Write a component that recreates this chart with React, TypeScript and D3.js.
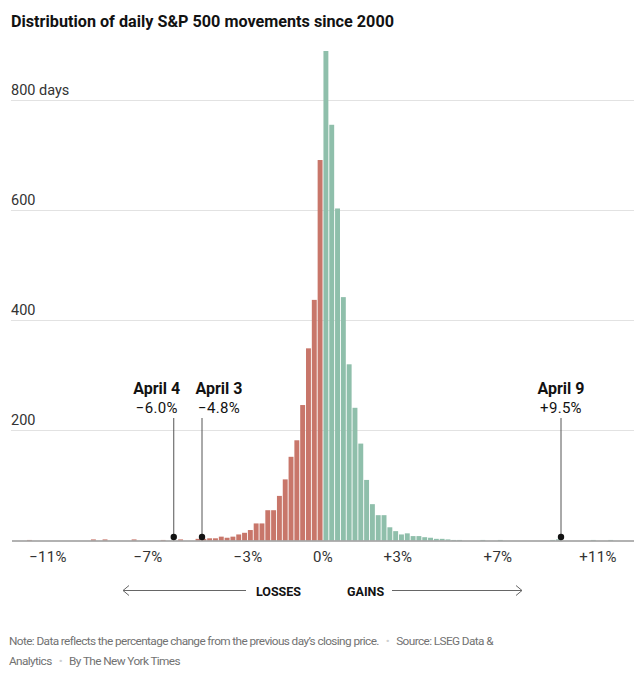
import { useEffect, useRef } from 'react';
import * as d3 from 'd3';

// Number of days per bin. Index 0 is the bin next to 0%.
const LOSS_DAYS = [
  691, 437, 349, 246, 182, 152, 111, 81, 55, 55, 31, 31, 19, 14, 11, 7, 5, 7, 4, 4, 3, 3,
  0, 0, 2, 0, 0, 1, 0, 0, 0, 0, 2, 0, 0, 0, 0, 2, 0, 2, 0, 0, 0, 0, 0, 0, 0, 0, 0, 0, 1,
];
const GAIN_DAYS = [
  889, 755, 603, 442, 320, 241, 176, 110, 66, 46, 46, 24, 17, 11, 13, 8, 8, 6, 5, 3, 3, 2, 1, 1,
  0, 0, 0, 1, 0, 0, 1, 0, 0, 0, 0, 0, 0, 0, 0, 1, 2, 0, 0, 0, 0, 0, 1, 0, 0, 1,
];
const BIN_WIDTH = 0.2325; // percentage points per bin

const X_TICKS = [-11, -7, -3, 0, 3, 7, 11];
const Y_TICKS = [200, 400, 600, 800];

const EVENT_DATES = ['April 4', 'April 3', 'April 9'];
const EVENT_VALUES = [-5.97, -4.84, 9.52];
const EVENT_LABELS = ['\u22126.0%', '\u22124.8%', '+9.5%'];
const EVENT_NUDGE = [-17, 17, 0]; // label offset from the leader line, px

const TITLE = 'Distribution of daily S&P 500 movements since 2000';
const NOTE_LINES = [
  ['Note: Data reflects the percentage change from the previous day\u2019s closing price.', 'Source: LSEG Data &'],
  ['Analytics', 'By The New York Times'],
];

const W = 644;
const H = 680;
const FONT = 'Roboto, "Noto Sans", Arial, sans-serif';
const RED = '#c8766a';
const GREEN = '#8fbfab';

const fmtTick = (v: number) => (v === 0 ? '0%' : v < 0 ? `\u2212${-v}%` : `+${v}%`);

export default function App() {
  const svgRef = useRef<SVGSVGElement>(null);

  useEffect(() => {
    if (!svgRef.current) return;
    const svg = d3.select(svgRef.current);
    svg.selectAll('*').remove();
    svg.style('font-family', FONT);

    const x = d3.scaleLinear().domain([-11, 11]).range([48, 598]);
    const y = d3.scaleLinear().domain([0, 800]).range([540.5, 100]);
    const left = 11;
    const right = 634;

    // Title
    svg
      .append('text')
      .attr('x', left)
      .attr('y', 27)
      .attr('font-size', '16.2px')
      .attr('font-weight', 700)
      .attr('fill', '#121212')
      .text(TITLE);

    // Gridlines and labels
    const grid = svg.append('g');
    Y_TICKS.forEach(t => {
      grid
        .append('line')
        .attr('x1', left)
        .attr('x2', right)
        .attr('y1', Math.round(y(t)) + 0.5)
        .attr('y2', Math.round(y(t)) + 0.5)
        .attr('stroke', '#e2e2e2')
        .attr('stroke-width', 1);
      grid
        .append('text')
        .attr('x', left)
        .attr('y', y(t) - 5)
        .attr('font-size', '14.5px')
        .attr('fill', '#333')
        .text(t === 800 ? `${t} days` : `${t}`);
    });

    // Bars
    const bars = svg.append('g');
    const gap = 0.9;
    LOSS_DAYS.forEach((d, i) => {
      if (!d) return;
      const x0 = x(-(i + 1) * BIN_WIDTH);
      const x1 = x(-i * BIN_WIDTH);
      bars
        .append('rect')
        .attr('x', x0 + gap / 2)
        .attr('y', y(d))
        .attr('width', Math.max(0.5, x1 - x0 - gap))
        .attr('height', y(0) - y(d))
        .attr('fill', RED);
    });
    GAIN_DAYS.forEach((d, i) => {
      if (!d) return;
      const x0 = x(i * BIN_WIDTH);
      const x1 = x((i + 1) * BIN_WIDTH);
      bars
        .append('rect')
        .attr('x', x0 + gap / 2)
        .attr('y', y(d))
        .attr('width', Math.max(0.5, x1 - x0 - gap))
        .attr('height', y(0) - y(d))
        .attr('fill', GREEN);
    });

    // Baseline
    svg
      .append('line')
      .attr('x1', 12)
      .attr('x2', right)
      .attr('y1', y(0) + 0.5)
      .attr('y2', y(0) + 0.5)
      .attr('stroke', '#999')
      .attr('stroke-width', 1.5);

    // X tick labels
    svg
      .append('g')
      .selectAll('text')
      .data(X_TICKS)
      .join('text')
      .attr('x', (d: number) => x(d))
      .attr('y', 562)
      .attr('text-anchor', 'middle')
      .attr('font-size', '15px')
      .attr('letter-spacing', '0.3px')
      .attr('fill', '#333')
      .text((d: number) => fmtTick(d));

    // Annotations
    EVENT_DATES.forEach((date, i) => {
      const cx = x(EVENT_VALUES[i]);
      const lx = cx + EVENT_NUDGE[i];
      const g = svg.append('g');
      g.append('line')
        .attr('x1', cx)
        .attr('x2', cx)
        .attr('y1', 418)
        .attr('y2', 537)
        .attr('stroke', '#555')
        .attr('stroke-width', 1);
      g.append('circle').attr('cx', cx).attr('cy', 537).attr('r', 3.2).attr('fill', '#121212');
      g.append('text')
        .attr('x', lx)
        .attr('y', 394)
        .attr('text-anchor', 'middle')
        .attr('font-size', '16px')
        .attr('font-weight', 700)
        .attr('fill', '#121212')
        .text(date);
      g.append('text')
        .attr('x', lx)
        .attr('y', 412.5)
        .attr('text-anchor', 'middle')
        .attr('font-size', '15px')
        .attr('letter-spacing', '0.3px')
        .attr('fill', '#121212')
        .text(EVENT_LABELS[i]);
    });

    // Losses / gains arrows
    const arrowY = 590.5;
    const arrows = svg.append('g').attr('stroke', '#666').attr('fill', 'none').attr('stroke-width', 1);
    arrows.append('line').attr('x1', 123).attr('x2', 246).attr('y1', arrowY).attr('y2', arrowY);
    arrows.append('path').attr('d', `M129,${arrowY - 5}L123,${arrowY}L129,${arrowY + 5}`);
    arrows.append('line').attr('x1', 392).attr('x2', 522).attr('y1', arrowY).attr('y2', arrowY);
    arrows.append('path').attr('d', `M516,${arrowY - 5}L522,${arrowY}L516,${arrowY + 5}`);
    svg
      .append('text')
      .attr('x', 301)
      .attr('y', 595.5)
      .attr('text-anchor', 'end')
      .attr('font-size', '12.5px')
      .attr('font-weight', 700)
      .attr('fill', '#121212')
      .text('LOSSES');
    svg
      .append('text')
      .attr('x', 347)
      .attr('y', 595.5)
      .attr('font-size', '12.5px')
      .attr('font-weight', 700)
      .attr('fill', '#121212')
      .text('GAINS');

    // Footer note
    NOTE_LINES.forEach((parts, i) => {
      const t = svg
        .append('text')
        .attr('x', 9)
        .attr('y', 645 + i * 19.5)
        .attr('font-size', '11.8px')
        .attr('letter-spacing', '-0.6px')
        .attr('fill', '#727272');
      parts.forEach((p, j) => {
        if (j > 0) {
          t.append('tspan').attr('fill', '#d0d0d0').attr('dx', 7).text('\u2022');
          t.append('tspan').attr('dx', 7).text(p);
        } else {
          t.append('tspan').text(p);
        }
      });
    });
  }, []);

  return (
    <div>
      <style>{'body{margin:0;background:#fff}'}</style>
      <svg ref={svgRef} width={W} height={H} style={{ display: 'block', background: '#fff' }} />
    </div>
  );
}
